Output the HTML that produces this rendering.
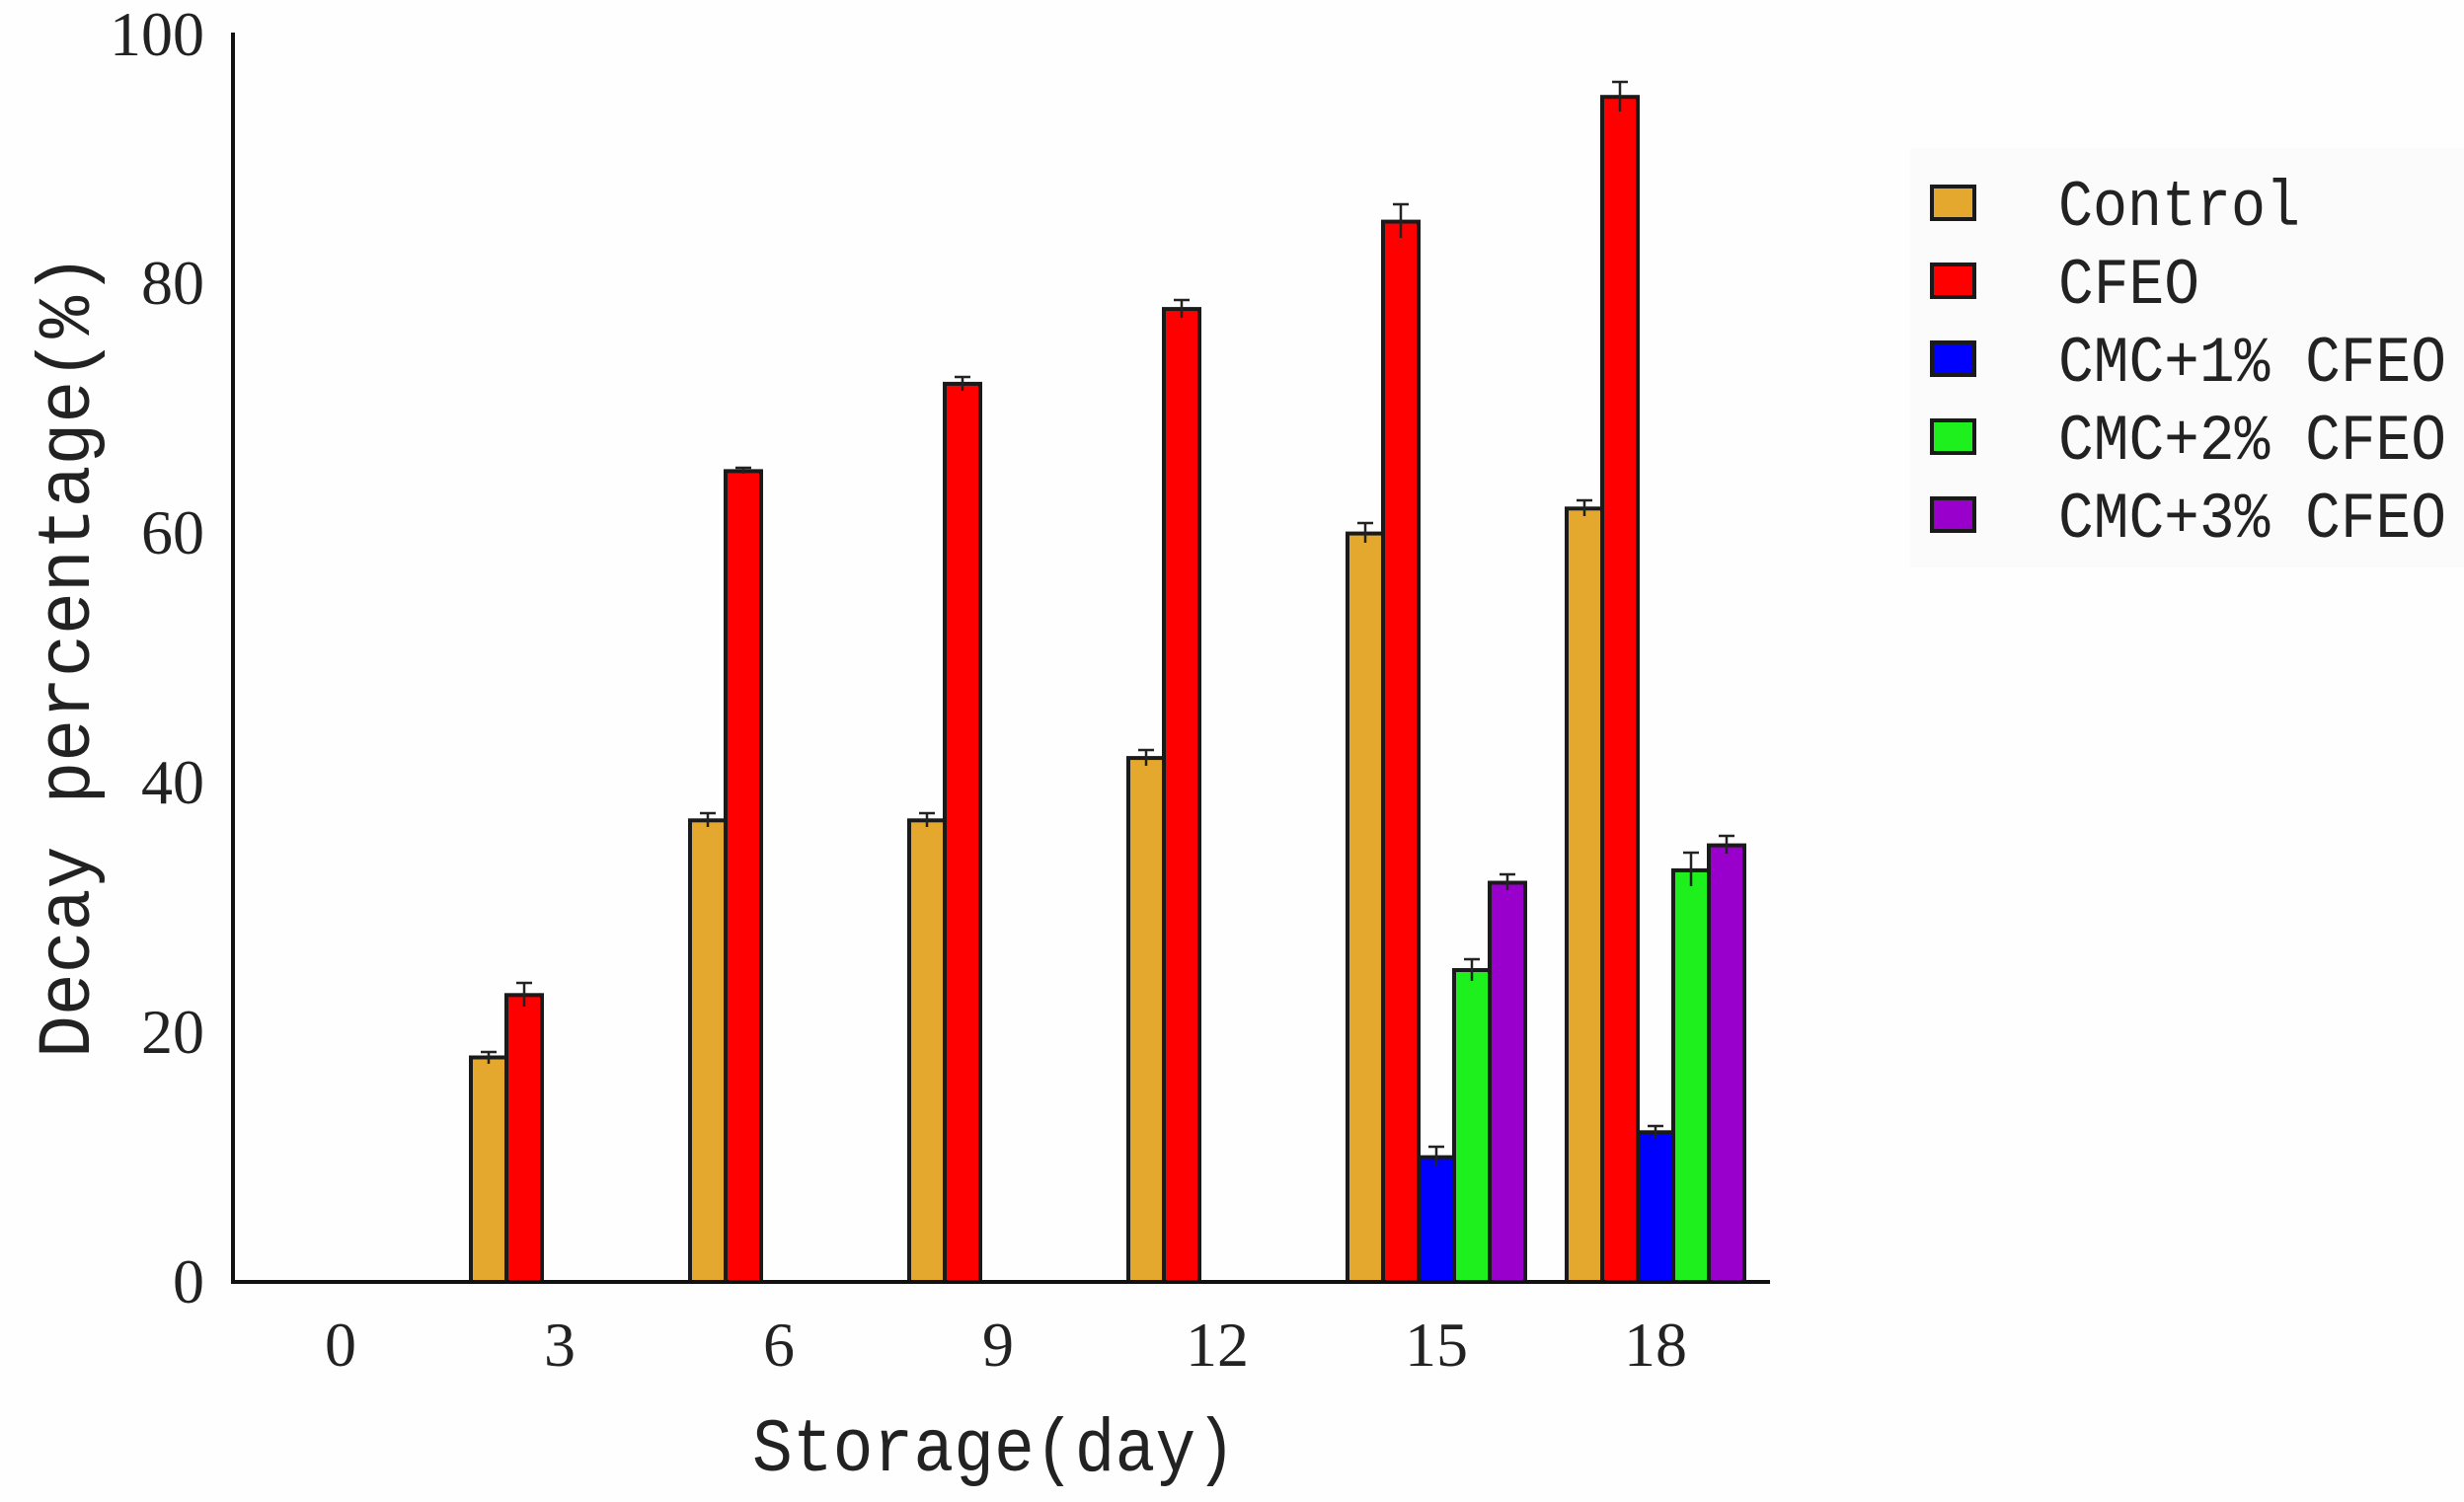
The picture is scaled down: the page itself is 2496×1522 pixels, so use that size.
<!DOCTYPE html>
<html><head><meta charset="utf-8"><style>
html,body{margin:0;padding:0;background:#fff;}
svg{display:block;}
</style></head><body>
<svg width="2496" height="1522" viewBox="0 0 2496 1522" xmlns="http://www.w3.org/2000/svg">
<rect width="2496" height="1522" fill="#fefefe"/>
<rect x="1935" y="150" width="561" height="425" fill="#fbfbfb"/>
<g stroke="#1a1a1a" stroke-width="4">
<rect x="477" y="1071.5" width="36" height="227.5" fill="#e5a82e"/>
<rect x="513" y="1008.3" width="36" height="290.7" fill="#ff0000"/>
<rect x="699" y="831.3" width="36" height="467.7" fill="#e5a82e"/>
<rect x="735" y="477.4" width="36" height="821.6" fill="#ff0000"/>
<rect x="921" y="831.3" width="36" height="467.7" fill="#e5a82e"/>
<rect x="957" y="388.9" width="36" height="910.1" fill="#ff0000"/>
<rect x="1143" y="768.1" width="36" height="530.9" fill="#e5a82e"/>
<rect x="1179" y="313.1" width="36" height="985.9" fill="#ff0000"/>
<rect x="1365" y="540.6" width="36" height="758.4" fill="#e5a82e"/>
<rect x="1401" y="224.6" width="36" height="1074.4" fill="#ff0000"/>
<rect x="1437" y="1172.6" width="36" height="126.4" fill="#0000ff"/>
<rect x="1473" y="983" width="36" height="316" fill="#1ef01e"/>
<rect x="1509" y="894.5" width="36" height="404.5" fill="#9900cc"/>
<rect x="1587" y="515.3" width="36" height="783.7" fill="#e5a82e"/>
<rect x="1623" y="98.2" width="36" height="1200.8" fill="#ff0000"/>
<rect x="1659" y="1147.3" width="36" height="151.7" fill="#0000ff"/>
<rect x="1695" y="881.9" width="36" height="417.1" fill="#1ef01e"/>
<rect x="1731" y="856.6" width="36" height="442.4" fill="#9900cc"/>
</g>
<g stroke="#222" stroke-width="2.5" fill="none">
<path d="M495 1066v12M487 1066h16"/>
<path d="M531 996v24M523 996h16"/>
<path d="M717 824v14M709 824h16"/>
<path d="M753 474v6M745 474h16"/>
<path d="M939 824v14M931 824h16"/>
<path d="M975 382v14M967 382h16"/>
<path d="M1161 760v16M1153 760h16"/>
<path d="M1197 304v18M1189 304h16"/>
<path d="M1383 530v20M1375 530h16"/>
<path d="M1419 207v34M1411 207h16"/>
<path d="M1455 1162v20M1447 1162h16"/>
<path d="M1491 972v22M1483 972h16"/>
<path d="M1527 886v16M1519 886h16"/>
<path d="M1605 507v16M1597 507h16"/>
<path d="M1641 83v30M1633 83h16"/>
<path d="M1677 1141v12M1669 1141h16"/>
<path d="M1713 864v34M1705 864h16"/>
<path d="M1749 847v18M1741 847h16"/>
</g>
<g stroke="#111" stroke-width="4">
<line x1="236" y1="33" x2="236" y2="1301"/>
<line x1="234" y1="1299" x2="1793" y2="1299"/>
</g>
<g font-family="Liberation Serif, serif" font-size="64" fill="#222" text-anchor="end">
<text x="207" y="1320">0</text>
<text x="207" y="1067">20</text>
<text x="207" y="814">40</text>
<text x="207" y="561">60</text>
<text x="207" y="308">80</text>
<text x="207" y="56">100</text>
</g>
<g font-family="Liberation Serif, serif" font-size="64" fill="#222" text-anchor="middle">
<text x="345" y="1384">0</text>
<text x="567" y="1384">3</text>
<text x="789" y="1384">6</text>
<text x="1011" y="1384">9</text>
<text x="1233" y="1384">12</text>
<text x="1455" y="1384">15</text>
<text x="1677" y="1384">18</text>
</g>
<text x="762" y="1490" font-family="Liberation Mono, monospace" font-size="76" fill="#222" textLength="490" lengthAdjust="spacingAndGlyphs">Storage(day)</text>
<text transform="translate(90,1072) rotate(-90)" font-family="Liberation Mono, monospace" font-size="76" fill="#222" textLength="815" lengthAdjust="spacingAndGlyphs">Decay percentage(%)</text>
<g stroke="#1a1a1a" stroke-width="4">
<rect x="1957" y="189" width="43" height="33" fill="#e5a82e"/>
<rect x="1957" y="268" width="43" height="33" fill="#ff0000"/>
<rect x="1957" y="347" width="43" height="33" fill="#0000ff"/>
<rect x="1957" y="426" width="43" height="33" fill="#1ef01e"/>
<rect x="1957" y="505" width="43" height="33" fill="#9900cc"/>
</g>
<g font-family="Liberation Mono, monospace" font-size="66" fill="#222">
<text x="2085" y="228" textLength="245" lengthAdjust="spacingAndGlyphs">Control</text>
<text x="2085" y="307" textLength="143" lengthAdjust="spacingAndGlyphs">CFEO</text>
<text x="2085" y="386" textLength="393" lengthAdjust="spacingAndGlyphs">CMC+1% CFEO</text>
<text x="2085" y="465" textLength="393" lengthAdjust="spacingAndGlyphs">CMC+2% CFEO</text>
<text x="2085" y="544" textLength="393" lengthAdjust="spacingAndGlyphs">CMC+3% CFEO</text>
</g>
</svg>
</body></html>
